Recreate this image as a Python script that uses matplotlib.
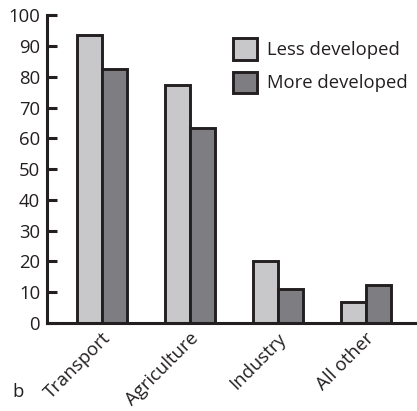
import numpy as np
import matplotlib.pyplot as plt
from matplotlib.transforms import ScaledTranslation

plt.rcParams['font.family'] = ['Open Sans', 'DejaVu Sans']

sectors = ['Transport', 'Agriculture', 'Industry', 'All other']
less_developed = [93.7, 77.3, 20.0, 6.7]
more_developed = [82.5, 63.2, 11.0, 12.5]
yticks = list(range(0, 101, 10))

light = '#c8c8ca'
dark = '#7e7e82'
edge = '#231f20'
fs = 13.3

fig = plt.figure(figsize=(4.17, 4.11), dpi=100)
ax = fig.add_axes([0.113, 0.214, 0.887, 0.749])

x = np.arange(len(sectors))
w = 0.285
ax.bar(x - w, less_developed, width=w, align='edge', color=light,
       edgecolor=edge, linewidth=2.1, label='Less developed', zorder=2)
ax.bar(x, more_developed, width=w, align='edge', color=dark,
       edgecolor=edge, linewidth=2.1, label='More developed', zorder=2)

ax.set_xlim(-0.625, 3.58)
ax.set_ylim(0, 100)
ax.set_yticks(yticks)
ax.tick_params(axis='y', direction='in', length=7, width=2.2, color=edge,
               labelsize=fs, labelcolor=edge, pad=5)
ax.set_xticks(x)
ax.set_xticklabels(sectors, rotation=45, ha='right', va='center',
                   rotation_mode='anchor', fontsize=fs, color=edge)
ax.tick_params(axis='x', length=0, pad=9)
# nudge the slanted labels so they end just right of each group
shift = ScaledTranslation(4 / 72, 0, fig.dpi_scale_trans)
for lbl in ax.get_xticklabels():
    lbl.set_transform(lbl.get_transform() + shift)

for side in ['top', 'right']:
    ax.spines[side].set_visible(False)
for side in ['left', 'bottom']:
    ax.spines[side].set_linewidth(2.2)
    ax.spines[side].set_color(edge)
    ax.spines[side].set_zorder(3)

leg = ax.legend(loc='upper right', bbox_to_anchor=(1.0, 0.955), frameon=False,
                fontsize=fs, handlelength=1.3, handleheight=1.4,
                handletextpad=0.55, labelspacing=0.65, borderaxespad=0.1)
for t in leg.get_texts():
    t.set_color(edge)

fig.text(0.03, 0.033, 'b', fontsize=fs, color=edge)

fig.savefig('out.png', dpi=100)
